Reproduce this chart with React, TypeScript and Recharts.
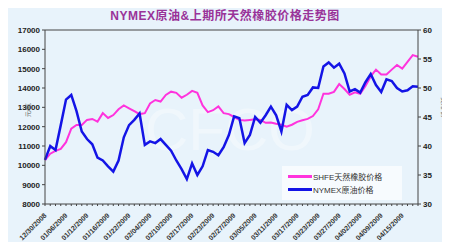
import React from "react";
import {
  ComposedChart,
  Line,
  XAxis,
  YAxis,
  ReferenceLine,
} from "recharts";

// trading days shown on the category axis
const dates = [
  "12/30/2008", "12/31/2008", "01/02/2009", "01/05/2009", "01/06/2009", "01/07/2009", "01/08/2009", "01/09/2009",
  "01/12/2009", "01/13/2009", "01/14/2009", "01/15/2009", "01/16/2009", "01/19/2009", "01/20/2009", "01/21/2009",
  "01/22/2009", "01/23/2009", "02/02/2009", "02/03/2009", "02/04/2009", "02/05/2009", "02/06/2009", "02/09/2009",
  "02/10/2009", "02/11/2009", "02/12/2009", "02/13/2009", "02/17/2009", "02/18/2009", "02/19/2009", "02/20/2009",
  "02/23/2009", "02/24/2009", "02/25/2009", "02/26/2009", "02/27/2009", "03/02/2009", "03/03/2009", "03/04/2009",
  "03/05/2009", "03/06/2009", "03/09/2009", "03/10/2009", "03/11/2009", "03/12/2009", "03/13/2009", "03/16/2009",
  "03/17/2009", "03/18/2009", "03/19/2009", "03/20/2009", "03/23/2009", "03/24/2009", "03/25/2009", "03/26/2009",
  "03/27/2009", "03/30/2009", "03/31/2009", "04/01/2009", "04/02/2009", "04/03/2009", "04/07/2009", "04/08/2009",
  "04/09/2009", "04/10/2009", "04/13/2009", "04/14/2009", "04/15/2009", "04/16/2009", "04/17/2009", "04/20/2009",
];

// 上期所天然橡胶 (元/吨)
const shfeRubber = [
  10275, 10600, 10750, 10850, 11200, 11900, 12085, 12085, 12350, 12400, 12260, 12700,
  12450, 12600, 12900, 13100, 12950, 12800, 12650, 12700, 13200, 13380, 13300, 13640,
  13810, 13750, 13500, 13650, 13850, 13750, 13100, 12750, 12850, 13050, 12700, 12650,
  12500, 12350, 12320, 12350, 12380, 12350, 12200, 12220, 12150, 12100, 12000, 12100,
  12250, 12330, 12400, 12550, 12900, 13700, 13700, 13800, 14200, 13950, 13650, 13780,
  13700, 14100, 14600, 14950, 14700, 14700, 14950, 15190, 15000, 15350, 15700, 15620,
];

// NYMEX原油 (美元/桶)
const nymexCrude = [
  37.6, 40.0, 39.3, 43.6, 48.0, 48.8, 46.0, 42.5, 41.2, 40.3, 38.0, 37.5,
  36.5, 35.6, 37.5, 41.5, 43.6, 44.5, 45.6, 40.2, 40.8, 40.5, 41.2, 40.2,
  39.2, 37.5, 36.0, 34.3, 37.0, 35.0, 36.5, 39.3, 39.0, 38.4, 39.8, 41.9,
  45.1, 44.8, 40.5, 41.9, 45.0, 44.0, 45.3, 46.8, 45.3, 42.5, 47.1, 46.2,
  46.8, 48.5, 48.8, 50.1, 50.0, 53.7, 54.4, 53.5, 54.2, 52.5, 49.4, 49.8,
  49.2, 51.0, 52.4, 50.5, 49.3, 51.5, 51.2, 50.0, 49.4, 49.6, 50.3, 50.2,
];

const leftTicks = [8000, 9000, 10000, 11000, 12000, 13000, 14000, 15000, 16000, 17000];
const rightTicks = [30, 35, 40, 45, 50, 55, 60];

const data = dates.map((d, i) => ({ date: d, rubber: shfeRubber[i], crude: nymexCrude[i] }));

const axisColor = "#444";
const font = "Arial, 'Liberation Sans', 'Noto Sans CJK SC', sans-serif";

function DateTick(props: any) {
  const { x, y, payload, index } = props;
  if (index % 4 !== 0) return null;
  return (
    <text
      x={x + 2}
      y={y + 8}
      transform={`rotate(-45 ${x + 2} ${y + 8})`}
      textAnchor="end"
      fontSize={7}
      fontWeight="bold"
      fill="#333"
      fontFamily={font}
    >
      {payload.value}
    </text>
  );
}

const legendItems = [
  { color: "#ff33dd", label: "SHFE天然橡胶价格" },
  { color: "#1414e6", label: "NYMEX原油价格" },
];

export default function App() {
  return (
    <div style={{ margin: -8, width: 450, height: 250, background: "#e8f3fb", position: "relative", fontFamily: font }}>
      <div
        style={{
          position: "absolute",
          top: 6,
          width: 450,
          textAlign: "center",
          fontSize: 12,
          letterSpacing: 0.5,
          fontWeight: "bold",
          color: "#993399",
        }}
      >
        NYMEX原油&amp;上期所天然橡胶价格走势图
      </div>
      <ComposedChart width={450} height={250} data={data} margin={{ top: 30, right: 0, left: 0, bottom: 0 }}>
        <XAxis
          dataKey="date"
          interval={0}
          height={46}
          tick={<DateTick />}
          tickLine={{ stroke: axisColor }}
          tickSize={2}
          axisLine={{ stroke: axisColor }}
        />
        <YAxis
          yAxisId="left"
          domain={[8000, 17000]}
          ticks={leftTicks}
          width={45}
          tick={{ fontSize: 8, fill: "#222", fontWeight: "bold", fontFamily: font }}
          tickSize={3}
          tickLine={{ stroke: axisColor }}
          axisLine={{ stroke: axisColor }}
          label={{ value: "元/吨", angle: -90, position: "insideLeft", offset: 28, fontSize: 6, fill: "#555" }}
        />
        <YAxis
          yAxisId="right"
          orientation="right"
          domain={[30, 60]}
          ticks={rightTicks}
          width={32}
          tick={{ fontSize: 8, fill: "#222", fontWeight: "bold", fontFamily: font }}
          tickSize={3}
          tickLine={{ stroke: axisColor }}
          axisLine={{ stroke: axisColor }}
          label={{ value: "美元/桶", angle: 90, position: "insideRight", offset: 6, fontSize: 6, fill: "#555" }}
        />
        <ReferenceLine yAxisId="left" y={17000} stroke={axisColor} />
        <text x={230} y={150} fontSize={60} fill="#ffffff" fillOpacity={0.35} textAnchor="middle" fontFamily={font}>
          CFCO
        </text>
        <Line
          yAxisId="left"
          type="linear"
          dataKey="rubber"
          name="SHFE天然橡胶价格"
          stroke="#ff33dd"
          strokeWidth={2}
          dot={false}
          isAnimationActive={false}
        />
        <Line
          yAxisId="right"
          type="linear"
          dataKey="crude"
          name="NYMEX原油价格"
          stroke="#1414e6"
          strokeWidth={2.5}
          dot={false}
          isAnimationActive={false}
        />
      </ComposedChart>
      <div
        style={{
          position: "absolute",
          left: 282,
          top: 166,
          width: 108,
          background: "#f7fbfe",
          padding: "4px 6px",
        }}
      >
        {legendItems.map((it) => (
          <div key={it.label} style={{ display: "flex", alignItems: "center", height: 13 }}>
            <span style={{ width: 24, height: 3, background: it.color, display: "inline-block" }} />
            <span style={{ fontSize: 8, color: "#333", marginLeft: 1 }}>{it.label}</span>
          </div>
        ))}
      </div>
    </div>
  );
}
